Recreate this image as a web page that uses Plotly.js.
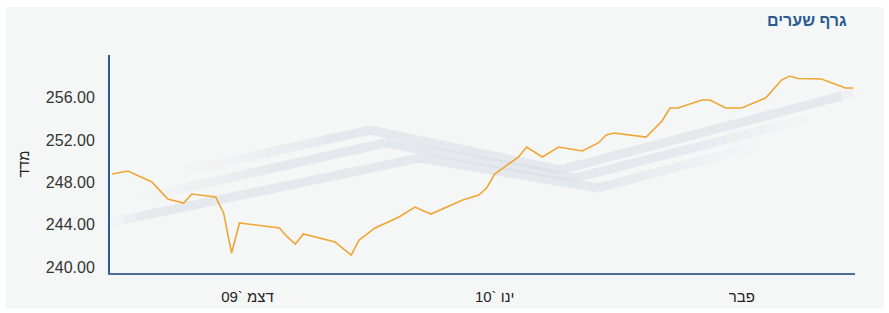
<!DOCTYPE html>
<html>
<head>
<meta charset="utf-8">
<script src="https://cdn.plot.ly/plotly-3.0.1.min.js"></script>
<style>
  html, body { margin: 0; padding: 0; background: #ffffff; }
  #chart { position: absolute; left: 6px; top: 7px; width: 878px; height: 302px; }
</style>
</head>
<body>
<div id="chart"></div>
<script>
// ---- data ----
const dates = [
  "2009-11-14","2009-11-16","2009-11-19","2009-11-21","2009-11-23","2009-11-24",
  "2009-11-27","2009-11-28","2009-11-29","2009-11-30","2009-12-01","2009-12-05",
  "2009-12-06","2009-12-07","2009-12-08","2009-12-12","2009-12-14","2009-12-15",
  "2009-12-17","2009-12-20","2009-12-22","2009-12-24","2009-12-28","2009-12-30",
  "2009-12-31","2010-01-01","2010-01-04","2010-01-05","2010-01-07","2010-01-09",
  "2010-01-12","2010-01-14","2010-01-15","2010-01-16","2010-01-20","2010-01-22",
  "2010-01-23","2010-01-24","2010-01-27","2010-01-28","2010-01-30","2010-02-01",
  "2010-02-04","2010-02-06","2010-02-07","2010-02-08","2010-02-11","2010-02-14",
  "2010-02-15"
];
const indexValues = [
  248.79, 249.08, 248.04, 246.43, 246.05, 246.90,
  246.62, 245.11, 241.32, 244.16, 244.07, 243.69,
  242.84, 242.17, 243.12, 242.36, 241.13, 242.55,
  243.69, 244.73, 245.67, 245.01, 246.34, 246.81,
  247.47, 248.79, 250.40, 251.35, 250.40, 251.35,
  250.97, 251.73, 252.48, 252.67, 252.29, 253.81,
  255.04, 255.04, 255.79, 255.79, 255.04, 255.04,
  255.98, 257.68, 258.06, 257.83, 257.78, 256.93,
  256.93
];
const yTickVals = [240, 244, 248, 252, 256];
const xTickVals = ["2009-12-01", "2010-01-01", "2010-02-01"];
// right-to-left embedding so the Hebrew labels read as in the original
const RLE = "\u202B", PDF = "\u202C";
const xTickText = ["דצמ `09", "ינו `10", "פבר"].map(t => RLE + t + PDF);
const chartTitle = "גרף שערים";
const yTitle = RLE + "מדד" + PDF;

// ---- decorative background ribbons (paper coords), faded at their ends ----
function P(x, y) { return ((x - 110) / 745).toFixed(4) + "," + ((273 - y) / 218).toFixed(4); }
const ribbons = [
  { pts: [[185,171],[370,130],[560,170],[853,93]], fin: 0.22, fout: 0.02 },
  { pts: [[140,198],[385,143],[575,178],[810,118]], fin: 0.2, fout: 0.2 },
  { pts: [[112,222],[420,158],[598,188],[760,145]], fin: 0.05, fout: 0.25 }
];
const shapes = [];
ribbons.forEach(r => {
  const segs = [];
  let total = 0;
  for (let i = 0; i < r.pts.length - 1; i++) {
    const a = r.pts[i], b = r.pts[i + 1];
    const L = Math.hypot(b[0] - a[0], b[1] - a[1]);
    segs.push([a, b, L, total]);
    total += L;
  }
  segs.forEach(([a, b, L, start]) => {
    const n = Math.max(1, Math.round(L / 12));
    for (let k = 0; k < n; k++) {
      const t0 = k / n, t1 = (k + 1) / n;
      const x0 = a[0] + (b[0] - a[0]) * t0, y0 = a[1] + (b[1] - a[1]) * t0;
      const x1 = a[0] + (b[0] - a[0]) * t1, y1 = a[1] + (b[1] - a[1]) * t1;
      const s = (start + L * (t0 + t1) / 2) / total;
      let op = 1;
      if (r.fin > 0 && s < r.fin) op = Math.min(op, s / r.fin);
      if (r.fout > 0 && s > 1 - r.fout) op = Math.min(op, (1 - s) / r.fout);
      op = Math.max(0, op) * 0.5;
      shapes.push({
        type: "path", xref: "paper", yref: "paper", layer: "below",
        path: "M" + P(x0, y0) + " L" + P(x1, y1),
        line: { color: "rgba(214,219,228," + op.toFixed(3) + ")", width: 9 }
      });
    }
  });
});

const trace = {
  x: dates, y: indexValues, type: "scatter", mode: "lines",
  line: { color: "#f0a534", width: 1.6, shape: "linear" },
  hoverinfo: "x+y"
};

const layout = {
  width: 878, height: 302,
  paper_bgcolor: "#f5f6f6", plot_bgcolor: "rgba(0,0,0,0)",
  margin: { l: 104, r: 29, t: 48, b: 36 },
  showlegend: false,
  font: { family: "Liberation Sans, Arial, sans-serif", color: "#333333" },
  xaxis: {
    type: "date",
    range: ["2009-11-13 18:00", "2010-02-15 05:00"],
    tickmode: "array", tickvals: xTickVals, ticktext: xTickText,
    showgrid: false, zeroline: false, ticks: "",
    showline: true, linecolor: "#4d6e9b", linewidth: 2,
    tickfont: { size: 15, color: "#222222", family: "Liberation Sans, Arial, sans-serif" },
    ticklabelstandoff: 9
  },
  yaxis: {
    range: [239.43, 260.05],
    tickmode: "array", tickvals: yTickVals, tickformat: ".2f",
    showgrid: false, zeroline: false, ticks: "",
    showline: true, linecolor: "#2d5a9a", linewidth: 2,
    tickfont: { size: 16, color: "#333333", family: "Liberation Sans, Arial, sans-serif" },
    ticklabelstandoff: 10,
    title: { text: yTitle, font: { size: 15, color: "#222222" }, standoff: 13 }
  },
  shapes: shapes,
  annotations: [{
    xref: "paper", yref: "paper", x: 1, y: 1, xanchor: "right", yanchor: "middle",
    xshift: -6, yshift: 35, showarrow: false,
    text: "<b>" + chartTitle + "</b>",
    font: { size: 16, color: "#2b5a92", family: "Liberation Sans, Arial, sans-serif" }
  }]
};

Plotly.newPlot("chart", [trace], layout, { displayModeBar: false, staticPlot: true });
</script>
</body>
</html>
